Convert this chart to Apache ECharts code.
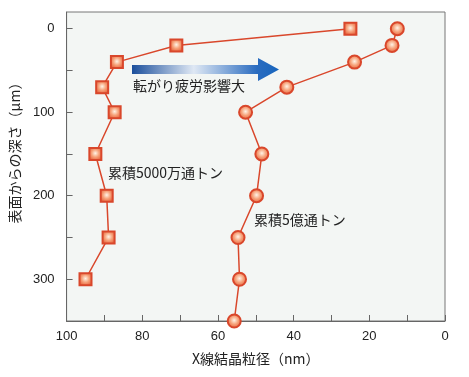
<!DOCTYPE html>
<html lang="ja">
<head>
<meta charset="UTF-8">
<title>X線結晶粒径と深さ</title>
<script src="https://cdn.jsdelivr.net/npm/echarts@6/dist/echarts.min.js"></script>
<style>
  html, body { margin: 0; padding: 0; background: #fff; }
  #main { width: 469px; height: 377px; }
</style>
</head>
<body>
<div id="main"></div>
<script type="text/javascript">
    // 表面からの深さ (μm)
    var depth5000 = [0, 20, 40, 70, 100, 150, 200, 250, 300];
    var depth5oku = [0, 20, 40, 70, 100, 150, 200, 250, 300, 350];
    // X線結晶粒径 (nm)
    var size5000 = [25, 71, 86.7, 90.6, 87.3, 92.4, 89.4, 88.9, 95];
    var size5oku = [12.6, 14, 23.9, 41.8, 52.7, 48.4, 49.8, 54.7, 54.3, 55.7];
    var xTicks = [0, 10, 20, 30, 40, 50, 60, 70, 80, 90, 100];
    var xLabels = [0, 20, 40, 60, 80, 100];
    var yTicks = [0, 50, 100, 150, 200, 250, 300, 350];
    var yLabels = [0, 100, 200, 300];

    function pairs(xs, ys) {
        var out = [];
        for (var i = 0; i < xs.length; i++) {
            out.push([xs[i], ys[i]]);
        }
        return out;
    }

    var jp = '"Noto Sans CJK JP", sans-serif';
    var red = '#d9472b';
    var markFill = {
        type: 'radial', x: 0.5, y: 0.45, r: 0.6,
        colorStops: [
            { offset: 0, color: '#fff3e6' },
            { offset: 0.45, color: '#f6a27a' },
            { offset: 1, color: '#e4552f' }
        ]
    };

    var myChart = echarts.init(document.getElementById('main'));
    myChart.setOption({
        animation: false,
        grid: {
            left: 65, right: 24, top: 12, bottom: 56,
            show: true,
            backgroundColor: '#f3f6f4',
            borderColor: '#777',
            borderWidth: 1
        },
        xAxis: {
            type: 'value',
            min: 0, max: 100, interval: 10,
            inverse: true,
            name: 'X線結晶粒径（nm）',
            nameLocation: 'middle',
            nameGap: 31,
            nameTextStyle: { fontFamily: jp, fontSize: 14, color: '#222' },
            axisLine: { show: true, onZero: false, lineStyle: { color: '#666', width: 1 } },
            axisTick: { inside: true, length: 6, customValues: xTicks, lineStyle: { color: '#666' } },
            axisLabel: {
                customValues: xLabels,
                margin: 9,
                fontFamily: '"Liberation Sans", Arial, sans-serif',
                fontSize: 13,
                color: '#222'
            },
            splitLine: { show: false }
        },
        yAxis: {
            type: 'value',
            min: -20, max: 350,
            inverse: true,
            name: '表面からの深さ（μm）',
            nameLocation: 'middle',
            nameRotate: 90,
            nameGap: 44,
            nameTextStyle: { fontFamily: jp, fontSize: 14, color: '#222', padding: [0, 0, 0, 34] },
            axisLine: { show: true, onZero: false, lineStyle: { color: '#666', width: 1 } },
            axisTick: { inside: true, length: 6, customValues: yTicks, lineStyle: { color: '#666' } },
            axisLabel: {
                customValues: yLabels,
                margin: 12,
                fontFamily: '"Liberation Sans", Arial, sans-serif',
                fontSize: 13,
                color: '#222'
            },
            splitLine: { show: false }
        },
        series: [
            {
                name: '累積5000万通トン',
                type: 'line',
                data: pairs(size5000, depth5000),
                symbol: 'rect',
                symbolSize: 12,
                lineStyle: { color: red, width: 1.5 },
                itemStyle: { color: markFill, borderColor: red, borderWidth: 2 }
            },
            {
                name: '累積5億通トン',
                type: 'line',
                data: pairs(size5oku, depth5oku),
                symbol: 'circle',
                symbolSize: 13,
                lineStyle: { color: red, width: 1.5 },
                itemStyle: { color: markFill, borderColor: red, borderWidth: 2 }
            }
        ],
        graphic: [
            {
                type: 'polygon',
                shape: {
                    points: [[132, 65], [258, 65], [258, 58], [279, 69.5], [258, 81], [258, 74], [132, 74]]
                },
                style: {
                    fill: {
                        type: 'linear', x: 0, y: 0, x2: 1, y2: 0,
                        colorStops: [
                            { offset: 0, color: '#1b4f9c' },
                            { offset: 0.42, color: '#dfe8f4' },
                            { offset: 0.85, color: '#2a6cc0' },
                            { offset: 1, color: '#1765bd' }
                        ]
                    }
                }
            },
            {
                type: 'text', left: 133, top: 79,
                style: { text: '転がり疲労影響大', font: '14px ' + jp, fill: '#222' }
            },
            {
                type: 'text', left: 108, top: 166,
                style: { text: '累積5000万通トン', font: '14px ' + jp, fill: '#222' }
            },
            {
                type: 'text', left: 254, top: 213,
                style: { text: '累積5億通トン', font: '14px ' + jp, fill: '#222' }
            }
        ]
    });
</script>
</body>
</html>
